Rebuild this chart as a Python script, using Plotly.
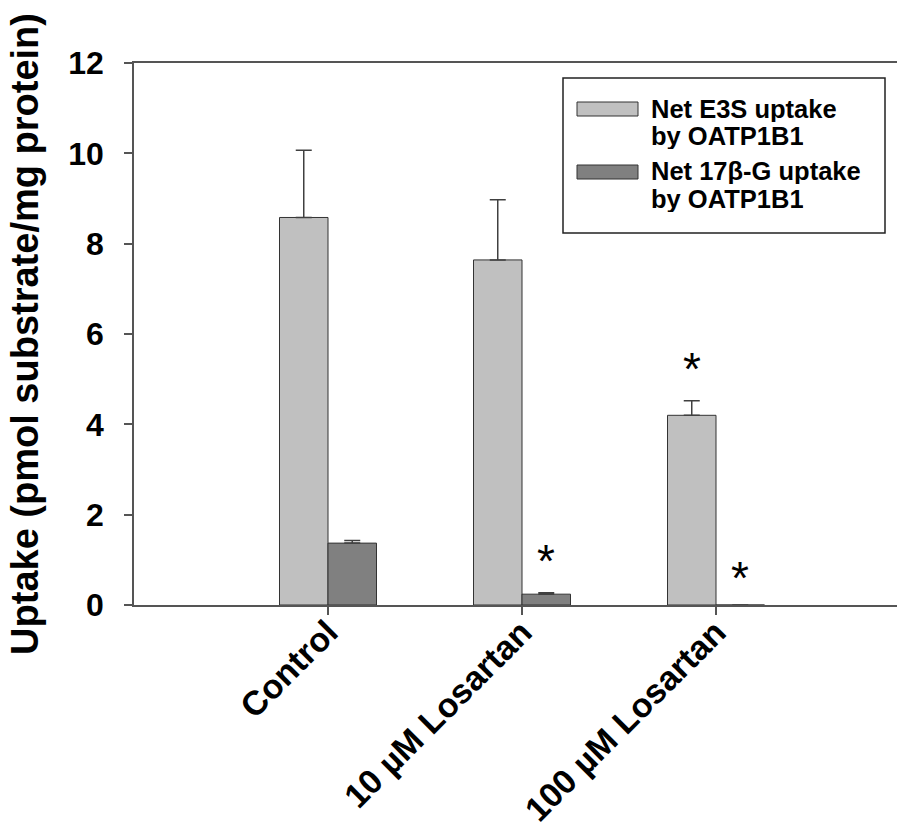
import plotly.graph_objects as go

# ---------------- data ----------------
categories = ["Control", "10 µM Losartan", "100 µM Losartan"]
e3s_values = [8.58, 7.64, 4.20]
e3s_errors = [1.49, 1.33, 0.32]
g17_values = [1.37, 0.24, 0.0]
g17_errors = [0.06, 0.03, 0.0]
series_names = ["Net E3S uptake by OATP1B1", "Net 17β-G uptake by OATP1B1"]
legend_lines = [["Net E3S uptake", "by OATP1B1"], ["Net 17β-G uptake", "by OATP1B1"]]
sig_category = [1, 2, 2]     # index into categories
sig_series = [1, 0, 1]       # 0 = E3S, 1 = 17β-G
sig_y = [1.11, 5.36, 0.72]
y_ticks = [0, 2, 4, 6, 8, 10, 12]
y_title = "Uptake (pmol substrate/mg protein)"

# ---------------- layout constants ----------------
W, H = 897, 829
ML, MR, MT, MB = 134, 0, 63, 224
FONT = "Liberation Sans, Arial, Helvetica, sans-serif"
colors = ["#c0c0c0", "#808080"]
edge = "#333333"
axis_col = "#555555"
bar_w = 0.25

def px_x(p):
    return (p - ML) / (W - ML - MR)

def px_y(p):
    return (H - MB - p) / (H - MT - MB)

fig = go.Figure()
for vals, errs, name, col in zip([e3s_values, g17_values], [e3s_errors, g17_errors], series_names, colors):
    fig.add_trace(go.Bar(
        x=categories, y=vals, name=name,
        marker=dict(color=col, line=dict(color=edge, width=1)),
        error_y=dict(type="data", array=errs, arrayminus=[0] * len(errs), symmetric=False,
                     color="#404040", thickness=1.5, width=8),
        showlegend=False,
    ))

# significance asterisks
for ci, si, yv in zip(sig_category, sig_series, sig_y):
    fig.add_annotation(x=ci + (si - 0.5) * bar_w, y=yv, xref="x", yref="y",
                       text="*", showarrow=False, yanchor="middle", yshift=-6,
                       font=dict(family=FONT, size=46, color="black"))

# custom legend
shapes = [dict(type="rect", xref="paper", yref="paper",
               x0=px_x(563), x1=px_x(885), y0=px_y(233), y1=px_y(78),
               line=dict(color="#222222", width=1.5), fillcolor="white", layer="above")]
sym_centers = [109, 172]
line_centers = [[109, 136], [171, 199]]
for i in range(2):
    shapes.append(dict(type="rect", xref="paper", yref="paper",
                       x0=px_x(577), x1=px_x(638),
                       y0=px_y(sym_centers[i] + 7), y1=px_y(sym_centers[i] - 7),
                       line=dict(color=edge, width=1), fillcolor=colors[i], layer="above"))
    for t, yc in zip(legend_lines[i], line_centers[i]):
        fig.add_annotation(x=px_x(650), y=px_y(yc), xref="paper", yref="paper",
                           text=t, showarrow=False, xanchor="left", yanchor="middle",
                           height=26, valign="middle", borderpad=0,
                           font=dict(family=FONT, size=25.5, color="black", weight="bold"))

fig.update_layout(
    width=W, height=H,
    margin=dict(l=ML, r=MR, t=MT, b=MB, pad=0, autoexpand=False),
    paper_bgcolor="white", plot_bgcolor="white",
    barmode="group", bargap=0.5, bargroupgap=0,
    shapes=shapes,
    font=dict(family=FONT, color="black"),
    xaxis=dict(
        type="category", range=[-1, 2.933], automargin=False,
        showline=True, linecolor=axis_col, linewidth=1.5, mirror=True,
        ticks="outside", ticklen=8, tickcolor=axis_col, tickwidth=1.5,
        ticklabelstandoff=-16,
        tickangle=-45, tickfont=dict(family=FONT, size=34, color="black", weight="bold"),
        showgrid=False, zeroline=False,
    ),
    yaxis=dict(
        range=[0, 12], tickvals=y_ticks, automargin=False,
        showline=True, linecolor=axis_col, linewidth=1.5,
        ticks="outside", ticklen=8, tickcolor=axis_col, tickwidth=1.5,
        ticklabelstandoff=14,
        tickfont=dict(family=FONT, size=32, color="black", weight="bold"),
        showgrid=False, zeroline=False,
        title=dict(text=y_title, standoff=18,
                   font=dict(family=FONT, size=38, color="black", weight="bold")),
    ),
)

fig.write_html("out.html")
